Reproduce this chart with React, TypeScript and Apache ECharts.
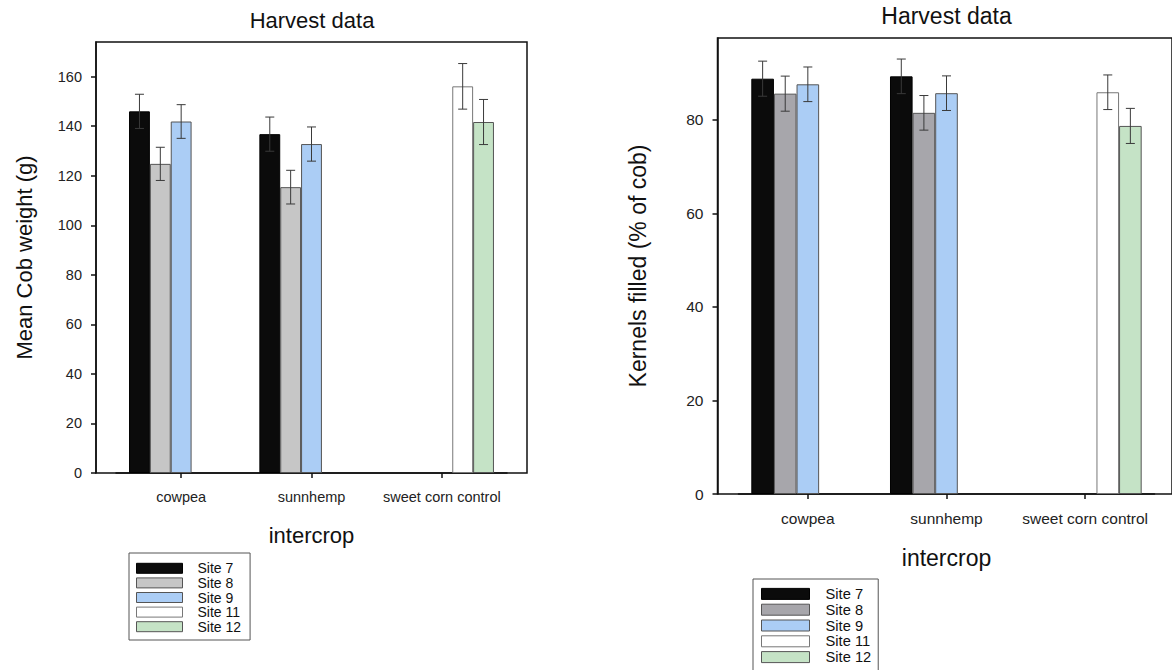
import React, { useEffect, useRef } from "react";
import * as echarts from "echarts";

const categories = ["cowpea", "sunnhemp", "sweet corn control"];
const sites = ["Site 7", "Site 8", "Site 9", "Site 11", "Site 12"];

// Mean cob weight (g) per site (rows) and intercrop (columns)
const cobWeightMean: (number | null)[][] = [
  [146.0, 136.8, null],
  [124.8, 115.4, null],
  [141.9, 132.8, null],
  [null, null, 156.1],
  [null, null, 141.7],
];
const cobWeightErr: (number | null)[][] = [
  [6.9, 6.9, null],
  [6.7, 6.8, null],
  [6.8, 6.9, null],
  [null, null, 9.2],
  [null, null, 9.1],
];
const cobTicks = [0, 20, 40, 60, 80, 100, 120, 140, 160];

// Kernels filled (% of cob)
const kernelsMean: (number | null)[][] = [
  [88.8, 89.3, null],
  [85.6, 81.5, null],
  [87.6, 85.7, null],
  [null, null, 85.9],
  [null, null, 78.7],
];
const kernelsErr: (number | null)[][] = [
  [3.75, 3.7, null],
  [3.75, 3.7, null],
  [3.7, 3.7, null],
  [null, null, 3.7],
  [null, null, 3.75],
];
const kernelTicks = [0, 20, 40, 60, 80];

const leftColors = ["#0b0b0b", "#c6c6c6", "#abcdf5", "#ffffff", "#c5e3c6"];
const rightColors = ["#0b0b0b", "#a7a6ab", "#abcdf5", "#ffffff", "#c5e3c6"];
const borderColors = ["#000000", "#555555", "#555555", "#777777", "#555555"];

const FONT = "'Liberation Sans', Arial, Helvetica, sans-serif";

function makeSeries(
  means: (number | null)[][],
  errs: (number | null)[][],
  colors: string[],
  axisIndex: number,
  gap: number
) {
  const out: any[] = [];
  sites.forEach((site, i) => {
    out.push({
      type: "bar",
      name: site,
      xAxisIndex: axisIndex,
      yAxisIndex: axisIndex,
      data: means[i].map((v) => (v == null ? "-" : v)),
      barGap: "0%",
      barCategoryGap: `${gap * 100}%`,
      itemStyle: { color: colors[i], borderColor: borderColors[i], borderWidth: 1 },
      emphasis: { disabled: true },
      z: 2,
    });
  });
  sites.forEach((site, i) => {
    const data: any[] = [];
    means[i].forEach((v, c) => {
      if (v != null) data.push([c, v, errs[i][c]]);
    });
    out.push({
      type: "custom",
      name: "err " + site,
      xAxisIndex: axisIndex,
      yAxisIndex: axisIndex,
      silent: true,
      z: 3,
      encode: { x: 0, y: 1 },
      data,
      renderItem: (params: any, api: any) => {
        const cat = api.value(0);
        const v = api.value(1);
        const e = api.value(2);
        const band = api.size([1, 0])[0];
        const groupW = band * (1 - gap);
        const bw = groupW / sites.length;
        const cx = api.coord([cat, v])[0] - groupW / 2 + (i + 0.5) * bw;
        const yTop = api.coord([cat, v + e])[1];
        const yBot = api.coord([cat, v - e])[1];
        const style = { stroke: "#3a3a3a", lineWidth: 1 };
        const cap = 4.5;
        return {
          type: "group",
          children: [
            { type: "line", shape: { x1: cx, y1: yTop, x2: cx, y2: yBot }, style },
            { type: "line", shape: { x1: cx - cap, y1: yTop, x2: cx + cap, y2: yTop }, style },
            { type: "line", shape: { x1: cx - cap, y1: yBot, x2: cx + cap, y2: yBot }, style },
          ],
        };
      },
    });
  });
  return out;
}

export default function App() {
  const ref = useRef<HTMLDivElement>(null);
  useEffect(() => {
    if (!ref.current) return;
    const chart = echarts.init(ref.current, null, { renderer: "svg" });
    const axisLineStyle = { color: "#111", width: 1.5 };
    const option: any = {
      animation: false,
      backgroundColor: "#ffffff",
      textStyle: { fontFamily: FONT },
      title: [
        {
          text: "Harvest data",
          left: 312,
          top: 9,
          textAlign: "center",
          padding: 0,
          textStyle: { fontSize: 22, fontWeight: "normal", color: "#111", fontFamily: FONT },
        },
        {
          text: "Harvest data",
          left: 946.5,
          top: 4,
          textAlign: "center",
          padding: 0,
          textStyle: { fontSize: 23, fontWeight: "normal", color: "#111", fontFamily: FONT },
        },
      ],
      legend: [
        {
          orient: "vertical",
          left: 129,
          top: 553,
          height: 120,
          padding: [8, 9, 6, 7],
          borderColor: "#555",
          borderWidth: 1,
          itemWidth: 46,
          itemHeight: 10,
          itemGap: 0,
          icon: "rect",
          selectedMode: false,
          data: sites.map((s, i) => ({
            name: s,
            itemStyle: { color: leftColors[i], borderColor: borderColors[i], borderWidth: 1 },
          })),
          textStyle: { fontSize: 14, lineHeight: 14.6, color: "#111", fontFamily: FONT, padding: [0, 0, 0, 10] },
        },
        {
          orient: "vertical",
          left: 753,
          top: 579,
          height: 120,
          padding: [7, 7, 6, 8],
          borderColor: "#555",
          borderWidth: 1,
          itemWidth: 48,
          itemHeight: 11,
          itemGap: 0,
          icon: "rect",
          selectedMode: false,
          data: sites.map((s, i) => ({
            name: s,
            itemStyle: { color: rightColors[i], borderColor: borderColors[i], borderWidth: 1 },
          })),
          textStyle: { fontSize: 14.7, lineHeight: 15.8, color: "#111", fontFamily: FONT, padding: [0, 0, 0, 11] },
        },
      ],
      grid: [
        { left: 96, top: 42, width: 431, height: 431, show: true, borderColor: "#111", borderWidth: 1.5, backgroundColor: "transparent" },
        { left: 116, top: 42, width: 391, height: 431 },
        { left: 717.5, top: 38, width: 458, height: 456, show: true, borderColor: "#111", borderWidth: 1.5, backgroundColor: "transparent" },
        { left: 738.5, top: 38, width: 416, height: 456 },
      ],
      xAxis: [
        { gridIndex: 0, type: "value", show: false },
        {
          gridIndex: 1,
          type: "category",
          data: categories,
          axisLine: { show: true, lineStyle: axisLineStyle },
          axisTick: { show: true, alignWithLabel: true, interval: 0, length: 5, lineStyle: axisLineStyle },
          axisLabel: { interval: 0, hideOverlap: false, fontSize: 14.5, color: "#222", margin: 16, fontFamily: FONT },
          name: "intercrop",
          nameLocation: "middle",
          nameGap: 51,
          nameTextStyle: { fontSize: 22, color: "#111", fontFamily: FONT },
        },
        { gridIndex: 2, type: "value", show: false },
        {
          gridIndex: 3,
          type: "category",
          data: categories,
          axisLine: { show: true, lineStyle: axisLineStyle },
          axisTick: { show: true, alignWithLabel: true, interval: 0, length: 5, lineStyle: axisLineStyle },
          axisLabel: { interval: 0, hideOverlap: false, fontSize: 15.5, color: "#222", margin: 16, fontFamily: FONT },
          name: "intercrop",
          nameLocation: "middle",
          nameGap: 52,
          nameTextStyle: { fontSize: 23, color: "#111", fontFamily: FONT },
        },
      ],
      yAxis: [
        { gridIndex: 0, type: "value", show: false },
        {
          gridIndex: 1,
          type: "value",
          min: 0,
          max: 174,
          offset: 20,
          axisLine: { show: true, lineStyle: axisLineStyle },
          axisTick: { show: true, length: 5, customValues: cobTicks, lineStyle: axisLineStyle },
          axisLabel: { customValues: cobTicks, fontSize: 14.5, color: "#222", margin: 14, fontFamily: FONT },
          splitLine: { show: false },
          name: "Mean Cob weight (g)",
          nameLocation: "middle",
          nameGap: 61,
          nameTextStyle: { fontSize: 22, color: "#111", fontFamily: FONT },
        },
        { gridIndex: 2, type: "value", show: false },
        {
          gridIndex: 3,
          type: "value",
          min: 0,
          max: 97.5,
          offset: 21,
          axisLine: { show: true, lineStyle: axisLineStyle },
          axisTick: { show: true, length: 5, customValues: kernelTicks, lineStyle: axisLineStyle },
          axisLabel: { customValues: kernelTicks, fontSize: 15.5, color: "#222", margin: 14, fontFamily: FONT },
          splitLine: { show: false },
          name: "Kernels filled (% of cob)",
          nameLocation: "middle",
          nameGap: 68,
          nameTextStyle: { fontSize: 23, color: "#111", fontFamily: FONT },
        },
      ],
      series: [
        ...makeSeries(cobWeightMean, cobWeightErr, leftColors, 1, 0.2),
        ...makeSeries(kernelsMean, kernelsErr, rightColors, 3, 0.185),
      ],
    };
    chart.setOption(option);
    return () => chart.dispose();
  }, []);
  return (
    <div
      ref={ref}
      style={{ position: "absolute", left: 0, top: 0, width: 1172, height: 670 }}
    />
  );
}
